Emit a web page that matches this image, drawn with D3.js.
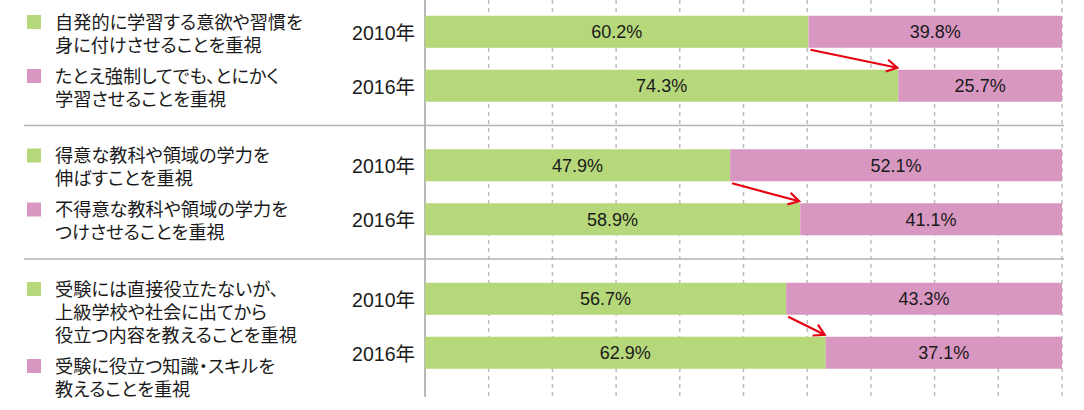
<!DOCTYPE html>
<html>
<head>
<meta charset="utf-8">
<script src="https://cdn.jsdelivr.net/npm/d3@7"></script>
<style>
  body { margin: 0; background: #fff; }
  svg { display: block; font-family: "Liberation Sans", "Noto Sans CJK JP", sans-serif; }
  .legend-text { font-feature-settings: "palt"; }
</style>
</head>
<body>
<div id="chart"></div>
<script>
// Chart data
const groups = [0, 1, 2];
const years = ["2010年", "2016年"];
const greenLabels = [
    ["自発的に学習する意欲や習慣を", "身に付けさせることを重視"],
    ["得意な教科や領域の学力を", "伸ばすことを重視"],
    ["受験には直接役立たないが、", "上級学校や社会に出てから", "役立つ内容を教えることを重視"]
];
const pinkLabels = [
    ["たとえ強制してでも、とにかく", "学習させることを重視"],
    ["不得意な教科や領域の学力を", "つけさせることを重視"],
    ["受験に役立つ知識・スキルを", "教えることを重視"]
];
const greenValues = [[60.2, 74.3], [47.9, 58.9], [56.7, 62.9]];
const pinkValues = [[39.8, 25.7], [52.1, 41.1], [43.3, 37.1]];
const xTicks = [10, 20, 30, 40, 50, 60, 70, 80, 90, 100];

const GREEN = "#b6d77a", PINK = "#d897c0", RED = "#e60012";
const TEXT = "#1a1a1a";
const width = 1084, height = 410;

const svg = d3.select("#chart").append("svg")
    .attr("width", width)
    .attr("height", height);

// Scales
const x = d3.scaleLinear().domain([0, 100]).range([425, 1062]);
const yGroup = d3.scaleBand().domain(groups).range([-8, 392.5]);
const yBar = d3.scaleBand().domain(years).range([0, yGroup.bandwidth()])
    .paddingInner(0.407).paddingOuter(0.44);

// Arrow marker
svg.append("defs").append("marker")
    .attr("id", "arrow")
    .attr("markerUnits", "userSpaceOnUse")
    .attr("viewBox", "-14 -8 16 16")
    .attr("refX", 0).attr("refY", 0)
    .attr("markerWidth", 16).attr("markerHeight", 16)
    .attr("orient", "auto")
    .append("path")
    .attr("d", "M-10.5,-6 L0,0 L-10.5,6")
    .attr("fill", "none")
    .attr("stroke", RED)
    .attr("stroke-width", 2.2);

// Dashed gridlines
svg.append("g").selectAll("line")
    .data(xTicks)
    .join("line")
    .attr("x1", d => x(d)).attr("x2", d => x(d))
    .attr("y1", 0).attr("y2", 397)
    .attr("stroke", "#bdbdbd")
    .attr("stroke-width", 1.5)
    .attr("stroke-dasharray", "4,4");

// Group separators
svg.append("g").selectAll("line")
    .data(groups.slice(1))
    .join("line")
    .attr("x1", 24).attr("x2", 1064)
    .attr("y1", d => yGroup(d)).attr("y2", d => yGroup(d))
    .attr("stroke", "#b3b3b3")
    .attr("stroke-width", 1.6);

// Axis line
svg.append("line")
    .attr("x1", x(0)).attr("x2", x(0))
    .attr("y1", 0).attr("y2", 397)
    .attr("stroke", "#b8b8b8")
    .attr("stroke-width", 2);

groups.forEach(g => {
    const g0 = yGroup(g);
    const gEl = svg.append("g").attr("transform", `translate(0,${g0})`);

    // Bars
    years.forEach((yr, i) => {
        const y0 = yBar(yr), bh = yBar.bandwidth();
        const gv = greenValues[g][i], pv = pinkValues[g][i];
        gEl.append("rect")
            .attr("x", x(0)).attr("y", y0)
            .attr("width", x(gv) - x(0)).attr("height", bh)
            .attr("fill", GREEN);
        gEl.append("rect")
            .attr("x", x(gv)).attr("y", y0)
            .attr("width", x(gv + pv) - x(gv)).attr("height", bh)
            .attr("fill", PINK);
        gEl.append("text")
            .attr("x", (x(0) + x(gv)) / 2).attr("y", y0 + bh / 2)
            .attr("dy", "0.36em")
            .attr("text-anchor", "middle")
            .attr("font-size", 18)
            .attr("fill", TEXT)
            .text(gv.toFixed(1) + "%");
        gEl.append("text")
            .attr("x", (x(gv) + x(gv + pv)) / 2).attr("y", y0 + bh / 2)
            .attr("dy", "0.36em")
            .attr("text-anchor", "middle")
            .attr("font-size", 18)
            .attr("fill", TEXT)
            .text(pv.toFixed(1) + "%");
        // Year label
        gEl.append("text")
            .attr("x", 415).attr("y", y0 + bh / 2 + 1)
            .attr("dy", "0.36em")
            .attr("text-anchor", "end")
            .attr("font-size", 19.5)
            .attr("fill", TEXT)
            .text(yr);
    });

    // Red arrow between the two boundaries
    const b1 = yBar(years[0]) + yBar.bandwidth();
    const t2 = yBar(years[1]);
    gEl.append("line")
        .attr("x1", x(greenValues[g][0]) + 2).attr("y1", b1 + 2)
        .attr("x2", x(greenValues[g][1]) - 1).attr("y2", t2 - 2)
        .attr("stroke", RED)
        .attr("stroke-width", 2.2)
        .attr("marker-end", "url(#arrow)");

    // Legend
    const lineH = 23;
    let ly = 30;
    [[greenLabels[g], GREEN], [pinkLabels[g], PINK]].forEach(([lines, col], k) => {
        if (k === 1) ly += 31 - lineH;
        gEl.append("rect")
            .attr("x", 27).attr("y", ly - 7)
            .attr("width", 14).attr("height", 14)
            .attr("fill", col);
        lines.forEach(t => {
            gEl.append("text")
                .attr("class", "legend-text")
                .attr("x", 55).attr("y", ly)
                .attr("dy", "0.36em")
                .attr("font-size", 18.2)
                .attr("fill", TEXT)
                .text(t);
            ly += lineH;
        });
    });
});
</script>
</body>
</html>
